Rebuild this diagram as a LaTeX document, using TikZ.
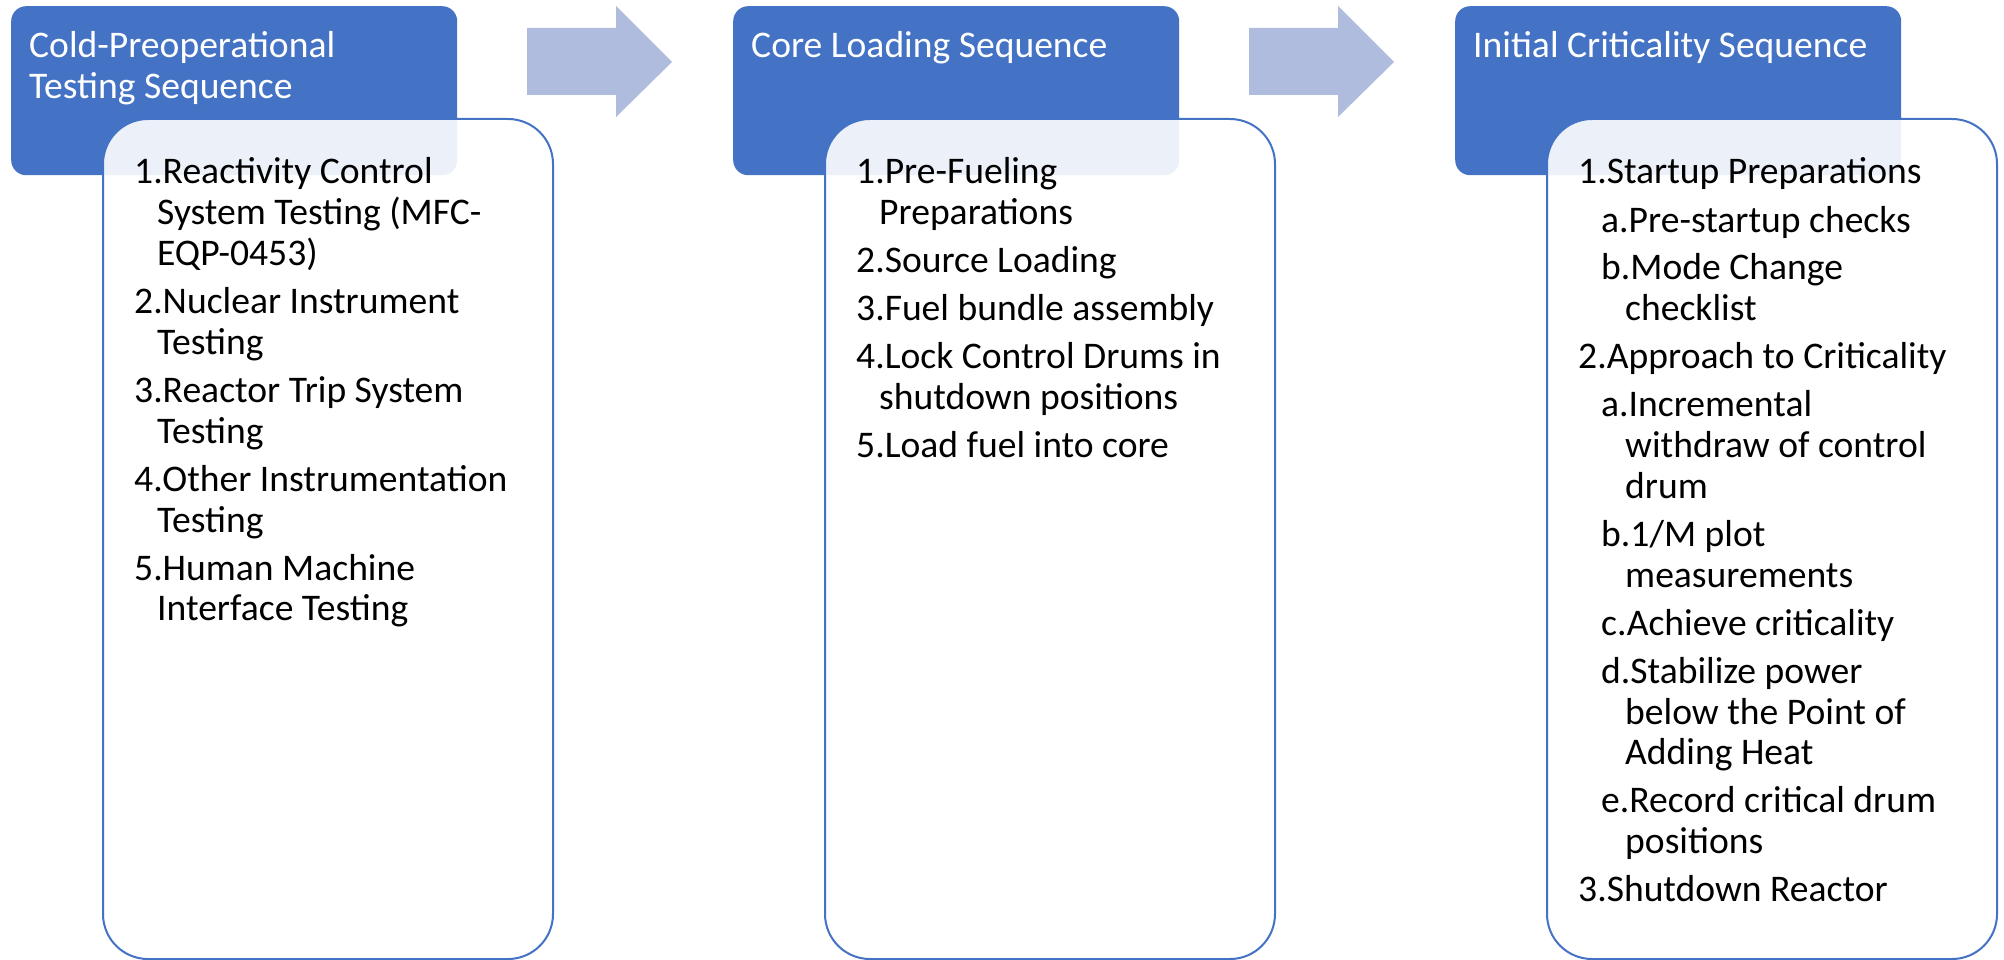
\documentclass[tikz,border=0pt]{standalone}
\usepackage{fontspec}
\setmainfont{Carlito}
\definecolor{hdrblue}{RGB}{68,114,196}
\definecolor{arrowblue}{RGB}{175,188,222}
\tikzset{
  hdr/.style={fill=hdrblue, draw=none, rounded corners=15pt, anchor=north west, inner sep=0pt},
  card/.style={fill=white, fill opacity=0.9, draw=hdrblue, line width=2pt, rounded corners=45pt, anchor=north west, inner sep=0pt},
  flowarrow/.style={fill=arrowblue, draw=none},
  hdrtext/.style={anchor=base west, inner sep=0pt, text=white},
  bodytext/.style={anchor=base west, inner sep=0pt, text=black},
}
\newcommand{\bigfont}{\fontsize{37.6pt}{40.8pt}\selectfont}
\newcommand{\bodysetup}{\bigfont\raggedright\parskip=7.2pt\parindent=0pt}
\newcommand{\itemA}[2]{\par\leftskip=0pt\hangindent=23pt\hangafter=1\noindent#1#2\par}
\newcommand{\itemB}[2]{\par\leftskip=23pt\hangindent=24pt\hangafter=1\noindent#1#2\par}
\begin{document}
\begin{tikzpicture}[x=1pt,y=-1pt]
\useasboundingbox (0,0) rectangle (2004,960);

% headers
\node[hdr, minimum width=446pt, minimum height=169pt] (h1) at (11,6) {};
\node[hdr, minimum width=446pt, minimum height=169pt] (h2) at (733,6) {};
\node[hdr, minimum width=446pt, minimum height=169pt] (h3) at (1455,6) {};

% arrows
\fill[flowarrow] (527,28) -- (616,28) -- (616,6) -- (672,62) -- (616,117) -- (616,95) -- (527,95) -- cycle;
\fill[flowarrow] (1249,28) -- (1338,28) -- (1338,6) -- (1394,62) -- (1338,117) -- (1338,95) -- (1249,95) -- cycle;

% cards
\node[card, minimum width=450pt, minimum height=840pt] (b1) at (102,118) {};
\node[card, minimum width=450pt, minimum height=840pt] (b2) at (824,118) {};
\node[card, minimum width=450pt, minimum height=840pt] (b3) at (1546,118) {};

% header texts
\node[hdrtext] (ht1) at (29,58) {\parbox[t]{420pt}{\bigfont\raggedright Cold-Preoperational\newline Testing Sequence}};
\node[hdrtext] (ht2) at (751,58) {\parbox[t]{420pt}{\bigfont\raggedright Core Loading Sequence}};
\node[hdrtext] (ht3) at (1473,58) {\parbox[t]{420pt}{\bigfont\raggedright Initial Criticality Sequence}};

% body texts
\node[bodytext] (bt1) at (134,184) {\parbox[t]{430pt}{\bodysetup
\itemA{1.}{Reactivity Control\newline System Testing (MFC-\newline EQP-0453)}
\itemA{2.}{Nuclear Instrument\newline Testing}
\itemA{3.}{Reactor Trip System\newline Testing}
\itemA{4.}{Other Instrumentation\newline Testing}
\itemA{5.}{Human Machine\newline Interface Testing}}};

\node[bodytext] (bt2) at (856,184) {\parbox[t]{430pt}{\bodysetup
\itemA{1.}{Pre-Fueling\newline Preparations}
\itemA{2.}{Source Loading}
\itemA{3.}{Fuel bundle assembly}
\itemA{4.}{Lock Control Drums in\newline shutdown positions}
\itemA{5.}{Load fuel into core}}};

\node[bodytext] (bt3) at (1578,184) {\parbox[t]{430pt}{\bodysetup
\itemA{1.}{Startup Preparations}
\itemB{a.}{Pre-startup checks}
\itemB{b.}{Mode Change\newline checklist}
\itemA{2.}{Approach to Criticality}
\itemB{a.}{Incremental\newline withdraw of control\newline drum}
\itemB{b.}{1/M plot\newline measurements}
\itemB{c.}{Achieve criticality}
\itemB{d.}{Stabilize power\newline below the Point of\newline Adding Heat}
\itemB{e.}{Record critical drum\newline positions}
\itemA{3.}{Shutdown Reactor}}};
\end{tikzpicture}
\end{document}
